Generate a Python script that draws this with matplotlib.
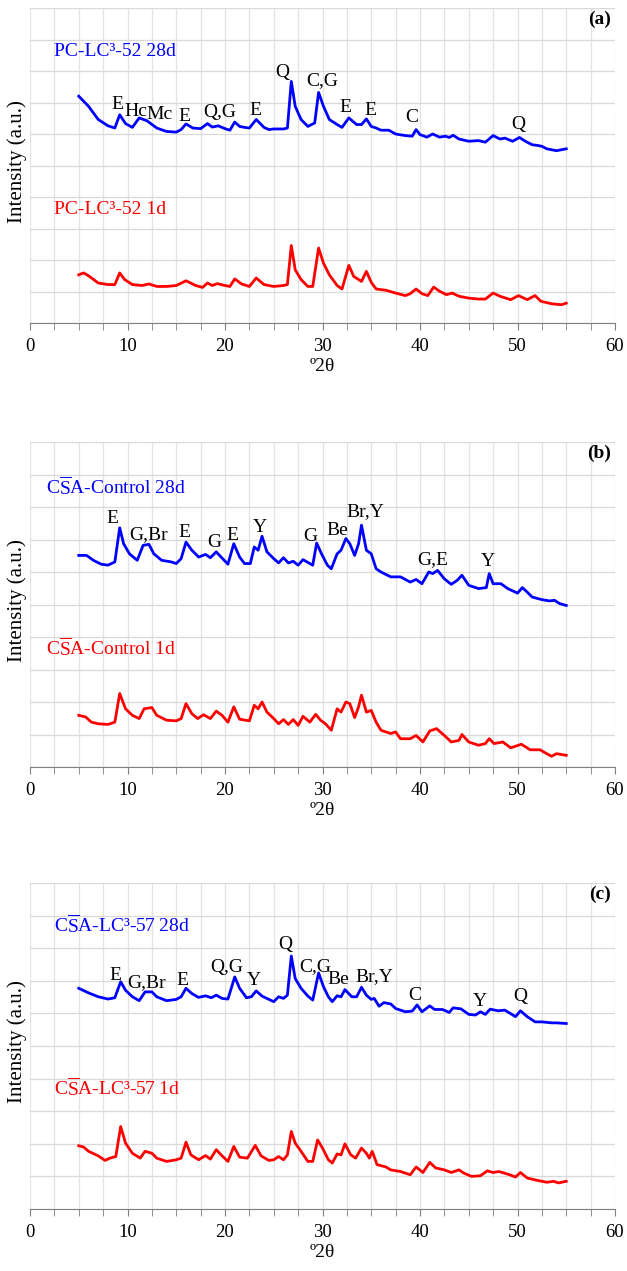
import matplotlib
matplotlib.use("Agg")
import matplotlib.pyplot as plt
from matplotlib.ticker import MultipleLocator

plt.rcParams["font.family"] = ["Liberation Serif", "DejaVu Serif"]
plt.rcParams["mathtext.fontset"] = "custom"
plt.rcParams["mathtext.rm"] = "Liberation Serif"

# ---- panel (a): PC-LC3-52 ----
a28_x = [5, 6, 7, 8, 8.7, 9.2, 9.8, 10.5, 11.2, 12, 13, 14, 15, 15.5, 16, 16.7, 17.5, 18.2, 18.7,
         19.3, 20, 20.5, 21, 21.5, 22, 22.5, 23.2, 24, 24.5, 25, 26, 26.4, 26.8, 27.2, 27.8, 28.5,
         29.2, 29.6, 30.1, 30.7, 31.5, 32, 32.7, 33.5, 34, 34.5, 35, 35.5, 36, 36.8, 37.5, 38.5,
         39.2, 39.6, 40, 40.7, 41.3, 42, 42.6, 43, 43.4, 44, 45, 46, 46.7, 47.5, 48.2, 48.7, 49.5,
         50.2, 50.8, 51.5, 52, 52.5, 53, 54, 55]
a28_y = [7.20, 6.88, 6.46, 6.26, 6.19, 6.61, 6.33, 6.21, 6.51, 6.42, 6.19, 6.08, 6.06, 6.14, 6.32,
         6.19, 6.17, 6.33, 6.22, 6.26, 6.17, 6.12, 6.38, 6.24, 6.21, 6.19, 6.46, 6.21, 6.14, 6.16,
         6.16, 6.19, 7.67, 6.88, 6.46, 6.24, 6.35, 7.32, 6.88, 6.46, 6.30, 6.21, 6.51, 6.30, 6.30,
         6.48, 6.24, 6.19, 6.12, 6.12, 6.00, 5.95, 5.93, 6.14, 5.98, 5.90, 6.00, 5.90, 5.93, 5.89,
         5.96, 5.84, 5.77, 5.79, 5.74, 5.95, 5.84, 5.87, 5.77, 5.89, 5.77, 5.66, 5.64, 5.61, 5.53,
         5.47, 5.53]
a1_x = [5, 5.5, 6, 7, 8, 8.7, 9.2, 9.7, 10.5, 11.5, 12.2, 13, 14, 15, 16, 17, 17.7, 18.2, 18.7,
        19.2, 20, 20.5, 21, 21.7, 22.5, 23.2, 24, 25, 26, 26.4, 26.8, 27.2, 27.8, 28.5, 29, 29.6,
        30.1, 30.7, 31.5, 32, 32.7, 33.2, 34, 34.5, 35, 35.5, 36.5, 37.5, 38.5, 39, 39.6, 40.2,
        40.8, 41.4, 42, 42.7, 43.3, 44, 45, 46, 46.7, 47.5, 48.2, 49.3, 50.1, 51, 51.8, 52.4,
        53.5, 54.5, 55]
a1_y = [1.53, 1.59, 1.50, 1.27, 1.22, 1.22, 1.59, 1.38, 1.22, 1.19, 1.24, 1.16, 1.16, 1.19, 1.34,
        1.19, 1.13, 1.27, 1.19, 1.25, 1.19, 1.16, 1.40, 1.24, 1.16, 1.43, 1.22, 1.16, 1.19, 1.22,
        2.46, 1.69, 1.38, 1.16, 1.16, 2.38, 1.90, 1.53, 1.19, 1.08, 1.83, 1.48, 1.32, 1.64, 1.29,
        1.08, 1.04, 0.95, 0.87, 0.93, 1.08, 0.93, 0.87, 1.14, 1.01, 0.90, 0.95, 0.85, 0.79, 0.76,
        0.76, 0.95, 0.85, 0.74, 0.87, 0.74, 0.87, 0.69, 0.61, 0.58, 0.63]
a_peaks = ["E", "Hc", "Mc", "E", "Q,G", "E", "Q", "C,G", "E", "E", "C", "Q"]
a_peak_x = [8.95, 10.9, 13.3, 15.8, 19.5, 23.1, 25.85, 29.95, 32.3, 34.9, 39.2, 50.1]
a_peak_y = [6.93, 6.72, 6.61, 6.56, 6.69, 6.74, 7.96, 7.69, 6.85, 6.74, 6.51, 6.30]

# ---- panel (b): CSA-Control ----
b28_x = [5, 5.8, 6.5, 7.3, 8, 8.7, 9.2, 9.6, 10.2, 11, 11.6, 12.2, 12.7, 13.5, 14.5, 15, 15.5, 16,
         16.6, 17.3, 18, 18.5, 19.1, 19.6, 20.3, 20.9, 21.5, 22, 22.6, 23, 23.4, 23.8, 24.3, 25,
         25.5, 26, 26.5, 27, 27.5, 28, 28.7, 29, 29.4, 29.9, 30.5, 30.9, 31.5, 31.9, 32.4, 32.8,
         33.3, 33.7, 34, 34.5, 35, 35.5, 36, 37, 38, 39, 39.6, 40.2, 40.9, 41.3, 41.8, 42.5, 43.2,
         43.8, 44.3, 45, 46, 46.8, 47.1, 47.5, 48.3, 49, 50, 50.5, 51, 51.5, 52.5, 53.3, 53.8,
         54.3, 55]
b28_y = [6.51, 6.51, 6.36, 6.24, 6.21, 6.31, 7.36, 6.87, 6.56, 6.36, 6.82, 6.85, 6.56, 6.36, 6.31,
         6.26, 6.41, 6.92, 6.67, 6.46, 6.54, 6.44, 6.62, 6.46, 6.24, 6.87, 6.46, 6.26, 6.26, 6.77,
         6.67, 7.10, 6.62, 6.41, 6.28, 6.44, 6.28, 6.33, 6.21, 6.38, 6.26, 6.21, 6.89, 6.56, 6.21,
         6.10, 6.56, 6.67, 7.03, 6.87, 6.51, 6.87, 7.44, 6.67, 6.56, 6.10, 6.00, 5.85, 5.85, 5.69,
         5.77, 5.64, 6.00, 5.95, 6.05, 5.79, 5.62, 5.74, 5.90, 5.59, 5.49, 5.52, 5.95, 5.64, 5.64,
         5.49, 5.35, 5.52, 5.38, 5.23, 5.15, 5.11, 5.13, 5.03, 4.97]
b1_x = [5, 5.7, 6.3, 7, 8, 8.7, 9.2, 9.8, 10.5, 11.2, 11.7, 12.5, 13, 14, 15, 15.5, 16, 16.6, 17.2,
        17.8, 18.5, 19.1, 19.7, 20.3, 20.9, 21.5, 22.5, 23, 23.4, 23.8, 24.3, 25, 25.5, 26, 26.5,
        27, 27.5, 28, 28.7, 29.3, 29.8, 30.3, 30.9, 31.5, 31.9, 32.4, 32.8, 33.3, 33.7, 34, 34.5,
        35, 35.5, 36, 37, 37.5, 38, 39, 39.6, 40.3, 41, 41.7, 42.5, 43.2, 44, 44.3, 45, 46, 46.7,
        47.1, 47.6, 48.5, 49.3, 50.4, 51.3, 52.3, 53, 53.5, 54, 55]
b1_y = [1.59, 1.54, 1.38, 1.33, 1.31, 1.38, 2.26, 1.79, 1.59, 1.49, 1.79, 1.83, 1.59, 1.44, 1.42,
        1.49, 1.95, 1.64, 1.49, 1.61, 1.49, 1.72, 1.59, 1.38, 1.85, 1.47, 1.42, 1.90, 1.79, 2.00,
        1.69, 1.49, 1.33, 1.46, 1.31, 1.46, 1.28, 1.56, 1.38, 1.62, 1.44, 1.33, 1.13, 1.79, 1.69,
        2.00, 1.95, 1.52, 1.85, 2.21, 1.69, 1.74, 1.38, 1.13, 1.03, 1.08, 0.87, 0.87, 0.97, 0.77,
        1.11, 1.18, 0.97, 0.77, 0.82, 1.00, 0.77, 0.67, 0.72, 0.87, 0.72, 0.77, 0.59, 0.70, 0.53,
        0.53, 0.41, 0.33, 0.41, 0.36]
b_peaks = ["E", "G,Br", "E", "G", "E", "Y", "G", "Be", "Br,Y", "G,E", "Y"]
b_peak_x = [8.5, 12.15, 15.8, 18.9, 20.8, 23.6, 28.75, 31.5, 34.4, 41.3, 46.95]
b_peak_y = [7.64, 7.16, 7.23, 6.92, 7.13, 7.38, 7.10, 7.28, 7.85, 6.39, 6.33]

# ---- panel (c): CSA-LC3-57 ----
c28_x = [5, 6, 7, 8, 8.7, 9.3, 9.8, 10.5, 11.2, 11.8, 12.5, 13, 14, 15, 15.5, 16, 16.6, 17.3, 18,
         18.6, 19.1, 19.7, 20.3, 21, 21.5, 22.2, 22.7, 23.2, 23.8, 24.5, 25, 25.5, 26, 26.4, 26.8,
         27.2, 27.8, 28.5, 29, 29.6, 30.1, 30.6, 31, 31.5, 31.9, 32.3, 33, 33.5, 34, 34.5, 35,
         35.3, 35.8, 36.3, 37, 37.5, 38.5, 39.2, 39.7, 40.2, 41, 41.5, 42.3, 43, 43.4, 44.2, 45,
         45.7, 46.2, 46.7, 47.2, 48, 48.7, 49.8, 50.3, 51, 51.8, 52.5, 53.5, 54, 55]
c28_y = [6.77, 6.63, 6.51, 6.44, 6.48, 6.97, 6.71, 6.51, 6.39, 6.66, 6.66, 6.51, 6.39, 6.43, 6.51,
         6.77, 6.61, 6.49, 6.54, 6.48, 6.56, 6.46, 6.44, 7.12, 6.77, 6.48, 6.51, 6.69, 6.53, 6.43,
         6.36, 6.51, 6.46, 6.56, 7.76, 7.07, 6.77, 6.53, 6.41, 7.24, 6.82, 6.51, 6.36, 6.54, 6.51,
         6.73, 6.51, 6.51, 6.80, 6.56, 6.43, 6.46, 6.22, 6.33, 6.29, 6.15, 6.05, 6.07, 6.26, 6.05,
         6.23, 6.12, 6.12, 6.03, 6.17, 6.14, 5.97, 5.95, 6.05, 5.97, 6.13, 6.08, 6.10, 5.90, 6.08,
         5.90, 5.74, 5.74, 5.71, 5.71, 5.69]
c1_x = [5, 5.5, 6, 7, 7.7, 8.2, 8.8, 9.3, 9.8, 10.5, 11.3, 11.8, 12.5, 13, 14, 15, 15.5, 16, 16.5,
        17.3, 18, 18.5, 19.1, 19.7, 20.3, 20.9, 21.5, 22.3, 23.1, 23.7, 24.5, 25, 25.5, 26, 26.4,
        26.8, 27.2, 27.8, 28.5, 29, 29.5, 30, 30.6, 31, 31.5, 31.9, 32.3, 32.9, 33.4, 34, 34.5,
        34.8, 35.1, 35.6, 36.5, 37, 38, 39, 39.6, 40.3, 41, 41.6, 42.5, 43.2, 44, 44.5, 45.3,
        46.2, 46.9, 47.5, 48.1, 49.2, 49.8, 50.3, 51, 52, 53, 53.7, 54.2, 55]
c1_y = [1.94, 1.90, 1.77, 1.63, 1.49, 1.56, 1.61, 2.53, 2.02, 1.71, 1.56, 1.77, 1.71, 1.56, 1.46,
        1.51, 1.56, 2.05, 1.66, 1.51, 1.64, 1.53, 1.82, 1.63, 1.46, 1.92, 1.59, 1.56, 1.95, 1.63,
        1.49, 1.51, 1.61, 1.51, 1.66, 2.38, 2.02, 1.77, 1.46, 1.46, 2.12, 1.87, 1.51, 1.41, 1.69,
        1.66, 2.00, 1.66, 1.56, 1.87, 1.71, 1.56, 1.77, 1.36, 1.29, 1.20, 1.15, 1.05, 1.29, 1.12,
        1.43, 1.26, 1.20, 1.12, 1.20, 1.10, 1.00, 1.02, 1.17, 1.12, 1.15, 1.05, 0.98, 1.12, 0.95,
        0.88, 0.82, 0.85, 0.80, 0.85]
c_peaks = ["E", "G,Br", "E", "Q,G", "Y", "Q", "C,G", "Be", "Br,Y", "C", "Y", "Q"]
c_peak_x = [8.8, 11.95, 15.65, 20.15, 23.0, 26.2, 29.3, 31.65, 35.3, 39.5, 46.1, 50.3]
c_peak_y = [7.17, 6.95, 7.02, 7.40, 7.00, 8.12, 7.45, 7.04, 7.14, 6.56, 6.38, 6.51]

CSA = r"C$\overline{\mathrm{S}}$A"
panels = [
    ("(a)", "PC-LC\u00b3-52 28d", "PC-LC\u00b3-52 1d", a28_x, a28_y, a1_x, a1_y,
     a_peaks, a_peak_x, a_peak_y, 8, 323, 2.46, 8.62, 3.60),
    ("(b)", CSA + "-Control 28d", CSA + "-Control 1d", b28_x, b28_y, b1_x, b1_y,
     b_peaks, b_peak_x, b_peak_y, 442, 767, 1.64, 8.62, 3.64),
    ("(c)", CSA + "-LC\u00b3-57 28d", CSA + "-LC\u00b3-57 1d", c28_x, c28_y, c1_x, c1_y,
     c_peaks, c_peak_x, c_peak_y, 883, 1209, 2.46, 8.70, 3.70),
]

W, H = 627, 1271
fig = plt.figure(figsize=(W / 100, H / 100), dpi=100)

for (tag, lab28, lab1, x28, y28, x1, y1, pk, pkx, pky, top, bot, labx, laby28, laby1) in panels:
    ax = fig.add_axes([30 / W, 1 - bot / H, 585 / W, (bot - top) / H])
    ax.plot(x28, y28, color="#0000ff", lw=2.0)
    ax.plot(x1, y1, color="#ff0000", lw=2.0)
    ax.set_xlim(0, 60)
    ax.set_ylim(0, 10)
    ax.xaxis.set_major_locator(MultipleLocator(10))
    ax.xaxis.set_minor_locator(MultipleLocator(2.5))
    ax.yaxis.set_major_locator(MultipleLocator(1))
    ax.grid(True, which="both", axis="x", color="#e3e3e3", lw=0.9)
    ax.grid(True, which="major", axis="y", color="#d9d9d9", lw=0.9)
    ax.set_axisbelow(True)
    for s in ["top", "right", "left"]:
        ax.spines[s].set_visible(False)
    ax.spines["bottom"].set_color("#7f7f7f")
    ax.tick_params(axis="y", length=0, labelleft=False)
    ax.tick_params(axis="x", which="both", direction="out", length=5, color="#7f7f7f",
                   labelsize=13.5, pad=6)
    ax.set_xlabel("\u00ba2\u03b8", fontsize=14, labelpad=2)

    ax.text(labx, laby28, lab28, color="#0000ff", fontsize=14, ha="left", va="center")
    ax.text(labx, laby1, lab1, color="#ff0000", fontsize=14, ha="left", va="center")
    for t, px, py in zip(pk, pkx, pky):
        ax.text(px, py, t, fontsize=14, ha="center", va="center")
    ax.text(59.6, 9.64, tag, fontsize=14, fontweight="bold", ha="right", va="center")

    fig.text(17 / W, 1 - ((top + bot) / 2 - 4) / H, "Intensity (a.u.)", rotation=90,
             fontsize=15, ha="center", va="center")

fig.savefig("out.png", dpi=100)
